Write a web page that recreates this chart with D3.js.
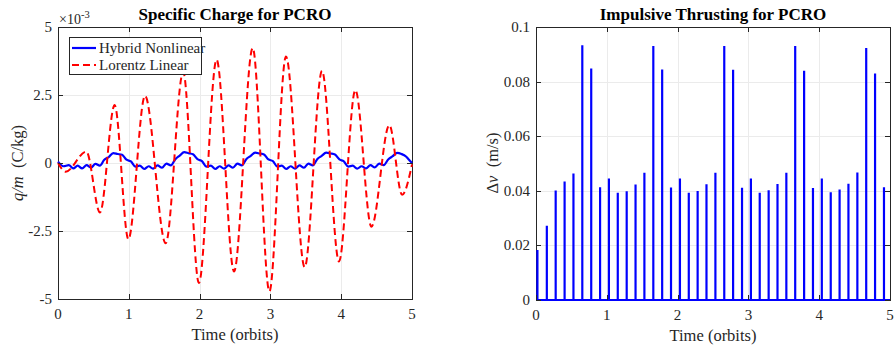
<!DOCTYPE html>
<html>
<head>
<meta charset="utf-8">
<script src="https://cdn.jsdelivr.net/npm/d3@7"></script>
<style>
  body { margin: 0; background: #fff; }
  svg { display: block; font-family: "Liberation Serif", "Times New Roman", serif; }
</style>
</head>
<body>
<svg id="fig" width="896" height="347"></svg>
<script>
// x ticks shared by both panels
const xTicks = [0, 1, 2, 3, 4, 5];

// left panel: specific charge (units of 1e-3 C/kg)
const qTicks = [-5, -2.5, 0, 2.5, 5];
const qTickLabels = ["-5", "-2.5", "0", "2.5", "5"];

// Lorentz linear, read at its turning points
const lorentzT = [0, 0.109, 0.40, 0.593, 0.80, 0.994, 1.229, 1.521, 1.768, 1.99, 2.24, 2.486,
  2.75, 2.986, 3.22, 3.484, 3.729, 3.969, 4.20, 4.427, 4.68, 4.86, 5.0];
const lorentzQ = [0, -0.32, 0.42, -1.82, 2.13, -2.80, 2.47, -2.95, 3.35, -4.41, 3.80, -3.99,
  4.23, -4.72, 3.92, -3.83, 3.39, -3.62, 2.68, -2.34, 1.39, -1.17, -0.05];

// hybrid nonlinear, read at impulses and between them
const hybridT = [0, 0.077, 0.153, 0.216, 0.278, 0.341, 0.404, 0.466, 0.529, 0.591, 0.654, 0.717, 0.780, 0.842, 0.905, 0.967,
  1.030, 1.093, 1.155, 1.218, 1.281, 1.343, 1.406, 1.469, 1.531, 1.594, 1.657, 1.719, 1.782, 1.845, 1.907, 1.970,
  2.033, 2.095, 2.158, 2.221, 2.283, 2.346, 2.408, 2.471, 2.534, 2.597, 2.659, 2.722, 2.784, 2.847, 2.910, 2.972,
  3.035, 3.098, 3.160, 3.223, 3.286, 3.348, 3.411, 3.474, 3.536, 3.599, 3.661, 3.724, 3.787, 3.849, 3.912, 3.975,
  4.037, 4.100, 4.163, 4.225, 4.288, 4.351, 4.413, 4.476, 4.539, 4.601, 4.664, 4.727, 4.789, 4.852, 4.915, 4.957, 5.0];
const hybridQ = [0.05, -0.12, -0.08, -0.20, -0.10, -0.20, -0.08, -0.17, -0.03, -0.10, 0.12, 0.22, 0.36, 0.33, 0.30, 0.12,
  0.06, -0.13, -0.10, -0.22, -0.12, -0.21, -0.09, -0.17, -0.02, -0.09, 0.14, 0.27, 0.40, 0.36, 0.32, 0.14,
  0.07, -0.13, -0.10, -0.22, -0.12, -0.21, -0.09, -0.17, -0.02, -0.09, 0.14, 0.26, 0.38, 0.35, 0.31, 0.13,
  0.07, -0.13, -0.10, -0.22, -0.12, -0.21, -0.09, -0.17, -0.02, -0.09, 0.14, 0.26, 0.38, 0.35, 0.31, 0.13,
  0.06, -0.13, -0.10, -0.21, -0.12, -0.20, -0.08, -0.16, -0.02, -0.08, 0.13, 0.25, 0.37, 0.33, 0.24, 0.12, 0.0];

// right panel: impulses
const dvTicks = [0, 0.02, 0.04, 0.06, 0.08, 0.1];
const dvTickLabels = ["0", "0.02", "0.04", "0.06", "0.08", "0.1"];
const burnT = [0.02, 0.153, 0.278, 0.404, 0.529, 0.654, 0.780, 0.905, 1.030, 1.155, 1.281, 1.406, 1.531,
  1.657, 1.782, 1.907, 2.033, 2.158, 2.283, 2.408, 2.534, 2.659, 2.784, 2.910, 3.035, 3.160,
  3.286, 3.411, 3.536, 3.661, 3.787, 3.912, 4.037, 4.163, 4.288, 4.413, 4.539, 4.664, 4.789, 4.915];
const burnDv = [0.0183, 0.0272, 0.0401, 0.0434, 0.0463, 0.0933, 0.0848, 0.0413, 0.0445, 0.0393, 0.0398, 0.0423, 0.0466,
  0.0930, 0.0844, 0.0412, 0.0445, 0.0393, 0.0399, 0.0424, 0.0466, 0.0930, 0.0843, 0.0411, 0.0445, 0.0393,
  0.0402, 0.0425, 0.0466, 0.0930, 0.0840, 0.0410, 0.0445, 0.0395, 0.0405, 0.0426, 0.0467, 0.0923, 0.0830, 0.0413];

const axisColor = "#262626";
const gridColor = "#ebebeb";
const svg = d3.select("#fig");

function makePanel(id, left, top, w, h, yDomain, yTicks, yTickLabels) {
  const x = d3.scaleLinear().domain([0, 5]).range([0, w]);
  const y = d3.scaleLinear().domain(yDomain).range([h, 0]);
  const g = svg.append("g").attr("transform", "translate(" + left + "," + top + ")");

  // lines may spill over the limits by half their width, like matlab
  svg.append("clipPath").attr("id", id)
    .append("rect").attr("x", -1.5).attr("y", -1.5).attr("width", w + 3).attr("height", h + 3);

  // grid
  g.append("g").selectAll("line").data(xTicks.slice(1, -1)).enter().append("line")
    .attr("x1", d => Math.round(x(d)) + 0.5).attr("x2", d => Math.round(x(d)) + 0.5)
    .attr("y1", 0).attr("y2", h).attr("stroke", gridColor);
  g.append("g").selectAll("line").data(yTicks.slice(1, -1)).enter().append("line")
    .attr("y1", d => Math.round(y(d)) + 0.5).attr("y2", d => Math.round(y(d)) + 0.5)
    .attr("x1", 0).attr("x2", w).attr("stroke", gridColor);

  // box goes under the data
  g.append("rect").attr("x", 0.5).attr("y", 0.5).attr("width", w).attr("height", h)
    .attr("fill", "none").attr("stroke", axisColor).attr("stroke-width", 1);

  const plot = g.append("g").attr("clip-path", "url(#" + id + ")");
  return { x, y, g, plot, w, h, yTicks, yTickLabels };
}

function finishPanel(p) {
  const { x, y, g, w, h } = p;

  // inward ticks on all four sides
  const tl = 5;
  xTicks.forEach(d => {
    const xx = Math.round(x(d)) + 0.5;
    g.append("line").attr("x1", xx).attr("x2", xx).attr("y1", h).attr("y2", h - tl).attr("stroke", axisColor);
    g.append("line").attr("x1", xx).attr("x2", xx).attr("y1", 0).attr("y2", tl).attr("stroke", axisColor);
    g.append("text").attr("x", x(d)).attr("y", h + 20).attr("text-anchor", "middle")
      .attr("font-size", 15).attr("fill", axisColor).text(d);
  });
  p.yTicks.forEach((d, i) => {
    const yy = Math.round(y(d)) + 0.5;
    g.append("line").attr("x1", 0).attr("x2", tl).attr("y1", yy).attr("y2", yy).attr("stroke", axisColor);
    g.append("line").attr("x1", w).attr("x2", w - tl).attr("y1", yy).attr("y2", yy).attr("stroke", axisColor);
    g.append("text").attr("x", -6).attr("y", y(d) + 5).attr("text-anchor", "end")
      .attr("font-size", 15).attr("fill", axisColor).text(p.yTickLabels[i]);
  });

  g.append("text").attr("x", w / 2).attr("y", h + 41).attr("text-anchor", "middle")
    .attr("font-size", 16.5).attr("fill", axisColor).text("Time (orbits)");
}

// ---------- left: specific charge ----------
const L = makePanel("clipL", 58, 27, 354, 272, [-5, 5], qTicks, qTickLabels);

L.plot.append("path")
  .datum(d3.zip(hybridT, hybridQ))
  .attr("fill", "none").attr("stroke", "#0000ff").attr("stroke-width", 2.2)
  .attr("d", d3.line().x(d => L.x(d[0])).y(d => L.y(d[1])).curve(d3.curveMonotoneX));

L.plot.append("path")
  .datum(d3.zip(lorentzT, lorentzQ))
  .attr("fill", "none").attr("stroke", "#ff0000").attr("stroke-width", 2)
  .attr("stroke-dasharray", "7,4")
  .attr("d", d3.line().x(d => L.x(d[0])).y(d => L.y(d[1])).curve(d3.curveMonotoneX));

finishPanel(L);

L.g.append("text").attr("x", L.w / 2).attr("y", -7).attr("text-anchor", "middle")
  .attr("font-size", 17).attr("font-weight", "bold").attr("fill", "#000")
  .text("Specific Charge for PCRO");

const exp = L.g.append("text").attr("x", 1).attr("y", -3).attr("font-size", 14).attr("fill", axisColor);
exp.append("tspan").text("\u00d710");
exp.append("tspan").attr("dy", -6).attr("font-size", 10.5).text("-3");

svg.append("text").attr("transform", "translate(23,163) rotate(-90)").attr("text-anchor", "middle")
  .attr("font-size", 16.5).attr("fill", axisColor)
  .call(t => {
    t.append("tspan").attr("font-style", "italic").text("q/m");
    t.append("tspan").attr("xml:space", "preserve").text("  (C/kg)");
  });

// legend
const lg = L.g.append("g").attr("transform", "translate(11,10)");
lg.append("rect").attr("x", 0.5).attr("y", 0.5).attr("width", 132).attr("height", 37)
  .attr("fill", "#fff").attr("stroke", axisColor);
lg.append("line").attr("x1", 3).attr("x2", 27).attr("y1", 11).attr("y2", 11)
  .attr("stroke", "#0000ff").attr("stroke-width", 2.2);
lg.append("line").attr("x1", 3).attr("x2", 27).attr("y1", 28).attr("y2", 28)
  .attr("stroke", "#ff0000").attr("stroke-width", 2).attr("stroke-dasharray", "7,4");
lg.append("text").attr("x", 30).attr("y", 16).attr("font-size", 15).attr("fill", axisColor).text("Hybrid Nonlinear");
lg.append("text").attr("x", 30).attr("y", 33).attr("font-size", 15).attr("fill", axisColor).text("Lorentz Linear");

// ---------- right: impulsive thrusting ----------
const R = makePanel("clipR", 536, 27, 354, 273, [0, 0.1], dvTicks, dvTickLabels);

const stems = [[0, 0]];
burnT.forEach((t, i) => { stems.push([t, 0], [t, burnDv[i]], [t, 0]); });
stems.push([5, 0]);

R.plot.append("path")
  .datum(stems)
  .attr("fill", "none").attr("stroke", "#0000ff").attr("stroke-width", 2.2)
  .attr("d", d3.line().x(d => R.x(d[0])).y(d => R.y(d[1])));

finishPanel(R);

R.g.append("text").attr("x", R.w / 2).attr("y", -7).attr("text-anchor", "middle")
  .attr("font-size", 17).attr("font-weight", "bold").attr("fill", "#000")
  .text("Impulsive Thrusting for PCRO");

svg.append("text").attr("transform", "translate(498,163) rotate(-90)").attr("text-anchor", "middle")
  .attr("font-size", 16.5).attr("fill", axisColor)
  .call(t => {
    t.append("tspan").text("\u0394");
    t.append("tspan").attr("font-style", "italic").text("v");
    t.append("tspan").attr("xml:space", "preserve").text("  (m/s)");
  });
</script>
</body>
</html>
